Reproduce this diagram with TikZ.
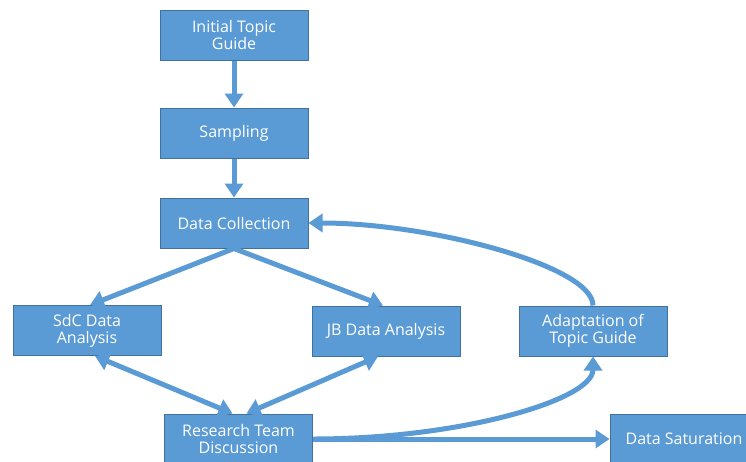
\documentclass[tikz,border=0pt]{standalone}
\usepackage{fontspec}
\setmainfont{Open Sans}
\usetikzlibrary{arrows.meta}
\definecolor{boxfill}{HTML}{5B9BD5}
\definecolor{boxline}{HTML}{41719C}
\begin{document}
\begin{tikzpicture}[x=1pt,y=-1pt,
  box/.style={rectangle,fill=boxfill,draw=boxline,line width=1pt,
    minimum width=148pt,minimum height=50pt,inner sep=2pt,
    text=white,align=center,font=\fontsize{16}{17}\selectfont},
  conn/.style={draw=boxfill,line width=5pt,-{Triangle[width=18pt,length=14pt]}},
  dconn/.style={draw=boxfill,line width=5pt,{Triangle[width=18pt,length=14pt]}-{Triangle[width=18pt,length=14pt]}}]
\useasboundingbox (0,0) rectangle (746,461);
\fill[white] (0,0) rectangle (746,461);
\node[box] (init) at (234,35) {Initial Topic\\Guide};
\node[box] (samp) at (234,133) {Sampling};
\node[box] (dc) at (234,223) {Data Collection};
\node[box] (sdc) at (87,330.5) {SdC Data\\Analysis};
\node[box] (jb) at (386,331) {JB Data Analysis};
\node[box] (adapt) at (593,331) {Adaptation of\\Topic Guide};
\node[box] (rtd) at (238.5,439) {Research Team\\Discussion};
\node[box] (sat) at (684,439) {Data Saturation};
\draw[conn] (init.south) -- (samp.north);
\draw[conn] (samp.south) -- (dc.north);
\draw[conn] (dc.south) -- ([xshift=3pt]sdc.north);
\draw[conn] (dc.south) -- ([xshift=-3pt]jb.north);
\draw[dconn] ([xshift=8pt]sdc.south) -- ([xshift=-6pt]rtd.north);
\draw[dconn] ([xshift=8pt]rtd.north) -- ([xshift=-8pt]jb.south);
\draw[conn] (rtd.east) -- (sat.west);
\draw[conn] (rtd.east) .. controls (460,439) and (593,400) .. (adapt.south);
\draw[conn] (adapt.north) .. controls (593,266) and (430,223) .. (dc.east);
\end{tikzpicture}
\end{document}
